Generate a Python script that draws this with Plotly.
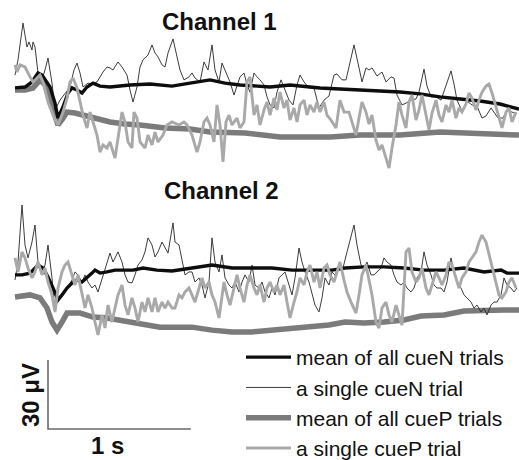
import plotly.graph_objects as go

# ---------------- data (time in ms, amplitude in µV) ----------------
ch1_meanN_t = [0,70,119,161,189,245,280,301,336,371,399,434,469,504,546,595,665,805,945,1099,1225,1365,1470,1575,1785,1925,2135,2324,2485,2695,2835,2975,3115,3255,3395,3528]
ch1_meanN_v = [0.9,1.3,3.5,7.4,6.5,1.3,-5.7,-12.2,-7.4,-1.3,0.9,0,-1.3,1.3,3.0,1.7,1.3,2.2,2.6,1.7,3.0,4.4,3.0,2.2,1.3,2.2,0.9,0.4,0,-0.9,-1.7,-3.0,-3.9,-4.8,-6.1,-8.3]

ch1_meanP_t = [0,70,126,175,210,245,280,301,336,364,420,476,560,665,770,875,1050,1225,1365,1610,1855,2205,2415,2695,2975,3255,3528]
ch1_meanP_v = [0,0,0.9,4.4,2.2,-4.4,-12.2,-15.2,-12.2,-9.6,-10.0,-10.9,-12.2,-13.9,-14.8,-15.2,-16.5,-17.0,-18.3,-18.7,-20.4,-20.4,-19.6,-19.6,-18.3,-18.7,-19.6]

ch1_singleN_t = [0,21,56,84,98,119,126,140,161,189,210,231,259,280,315,350,385,413,434,455,476,511,539,574,616,644,665,686,721,749,784,805,826,854,875,896,931,959,980,1001,1029,1050,1071,1106,1134,1155,1183,1218,1239,1260,1295,1323,1351,1379,1400,1428,1449,1470,1505,1533,1554,1575,1603,1624,1645,1673,1694,1715,1743,1764,1785,1813,1834,1862,1890,1918,1946,1974,1995,2023,2058,2093,2128,2163,2198,2233,2254,2289,2317,2338,2373,2401,2429,2457,2478,2499,2534,2569,2597,2632,2653,2674,2709,2737,2772,2807,2828,2863,2884,2912,2947,2982,3017,3052,3073,3094,3129,3164,3199,3234,3269,3297,3332,3360,3381,3416,3444,3479,3514]
ch1_singleN_v = [6.5,13.1,29.1,18.7,20.9,17.4,20.9,18.7,7.4,4.4,8.7,13.9,3.0,-8.7,-4.4,-1.3,1.3,8.7,11.7,7.4,1.3,3.0,2.6,3.5,7.8,10.0,9.6,8.7,12.2,10.0,6.5,0,-5.2,1.3,10.0,13.1,15.2,19.6,16.1,14.4,10.9,10.0,16.1,22.2,15.2,8.7,4.4,5.7,7.4,5.2,3.5,12.2,8.7,19.6,8.7,3.5,11.7,8.7,3.5,-2.2,2.2,5.7,7.4,2.2,-0.9,7.4,5.7,4.4,2.2,-3.0,-6.5,-7.8,-0.9,4.4,0,-4.4,-6.5,2.2,6.5,3.5,0.9,0.9,-7.8,-4.4,-2.6,6.5,7.0,4.4,4.4,10.0,19.6,11.7,3.5,9.6,8.7,9.6,6.1,7.8,3.5,5.7,5.2,-2.2,-6.5,-5.7,-4.4,-3.9,-0.9,9.1,1.7,-3.0,-3.0,-4.4,1.7,8.3,2.6,-4.4,-9.1,-4.8,-6.5,-7.0,-12.2,-11.3,-7.8,-10.4,-12.2,-12.2,-8.7,-9.6,-10.4]

ch1_singleP_t = [0,14,35,70,105,126,154,175,196,231,266,301,336,364,385,406,434,455,476,504,525,546,574,595,616,644,665,700,721,749,770,791,819,833,854,875,910,931,959,980,1001,1036,1064,1099,1148,1183,1204,1239,1274,1295,1323,1344,1365,1393,1414,1435,1456,1477,1498,1519,1554,1575,1603,1624,1645,1673,1694,1715,1743,1764,1785,1813,1834,1855,1883,1904,1925,1953,1974,1995,2023,2044,2065,2093,2114,2135,2163,2184,2212,2247,2275,2303,2338,2359,2387,2408,2429,2457,2478,2499,2527,2548,2569,2597,2618,2639,2667,2688,2709,2737,2758,2779,2807,2828,2849,2877,2898,2919,2947,2968,2989,3017,3038,3059,3087,3108,3129,3157,3178,3199,3227,3248,3269,3297,3318,3339,3367,3388,3409,3437,3458,3479,3507]
ch1_singleP_v = [10.9,7.8,10.9,10.0,5.7,3.5,5.2,6.5,3.5,-5.2,-10.9,-15.2,-9.6,-3.5,3.5,5.2,0.9,-5.2,-10.9,-16.5,-9.6,-13.9,-19.6,-27.0,-23.9,-25.2,-22.6,-29.6,-20.9,-9.6,-13.9,-22.6,-25.2,-9.6,-12.2,-22.6,-25.2,-19.6,-23.9,-18.3,-22.6,-19.6,-15.2,-13.9,-15.2,-13.9,-15.2,-19.6,-27.0,-22.6,-13.9,-12.2,-15.2,-22.6,-6.5,-15.2,-31.3,-13.9,-10.9,-15.2,-12.2,-16.5,-13.9,3.5,5.7,-10.9,-6.5,-15.2,-8.7,-5.2,-10.9,-3.5,-8.7,-0.9,-7.8,-4.4,-13.1,-7.8,-13.9,-6.5,-4.4,-10.9,-6.5,-9.6,-5.2,-9.6,-5.2,-10.9,-13.1,-16.5,-4.4,-9.6,-9.6,-13.9,-19.6,-12.2,-5.2,-9.6,-14.8,-10.9,-21.8,-26.1,-23.9,-29.6,-33.9,-25.2,-15.2,-5.2,-10.9,-16.5,-5.2,-2.2,-13.1,-8.7,-2.2,-10.9,-17.4,-10.0,-4.4,-10.9,-13.9,-6.5,-9.6,-4.4,-12.2,-7.8,-9.6,-6.1,-1.3,-3.5,-8.7,-4.4,-0.9,1.7,2.6,-1.3,-7.4,-12.2,-16.5,-9.6,-7.8,-13.9,-9.6]

ch2_meanN_t = [0,49,105,161,196,231,266,301,329,364,399,434,469,504,539,560,595,644,700,826,896,994,1099,1239,1379,1519,1680,1799,1939,2079,2219,2310,2443,2583,2723,2863,3003,3143,3283,3402,3444,3528]
ch2_meanN_v = [9.6,9.6,10.4,13.9,12.6,8.7,3.9,-1.3,0.9,3.9,6.1,7.4,6.5,8.3,10.4,11.7,10.4,10.9,11.7,11.7,12.6,11.7,11.3,12.6,13.9,12.6,12.6,12.6,11.7,11.7,11.7,12.6,13.1,13.1,12.6,11.7,11.7,12.6,10.9,11.7,10.4,10.4]

ch2_meanP_t = [0,105,175,224,259,294,329,364,455,546,644,735,826,924,1015,1106,1239,1379,1519,1659,1799,1939,2079,2198,2310,2443,2583,2723,2842,3003,3143,3283,3423,3528]
ch2_meanP_v = [0,0.9,-0.4,-4.8,-10.9,-14.4,-10.9,-7.0,-7.0,-8.7,-9.1,-10.0,-11.3,-12.2,-13.1,-13.1,-13.1,-14.4,-15.2,-15.2,-14.4,-13.9,-13.1,-12.2,-10.9,-11.3,-10.9,-10.0,-8.3,-7.8,-6.1,-5.7,-5.7,-5.7]

ch2_singleN_t = [0,21,49,70,91,119,140,161,189,210,231,259,280,301,336,371,399,420,441,469,490,511,539,560,581,616,644,665,686,721,749,770,791,819,840,861,889,910,931,959,980,1001,1029,1050,1071,1106,1120,1148,1169,1190,1218,1239,1260,1288,1309,1330,1358,1379,1400,1428,1449,1470,1498,1519,1540,1568,1589,1610,1638,1659,1680,1708,1729,1750,1778,1799,1820,1848,1869,1890,1918,1939,1960,1988,2009,2030,2058,2079,2100,2128,2149,2170,2198,2219,2240,2268,2289,2324,2352,2373,2394,2422,2443,2464,2492,2513,2534,2562,2583,2604,2632,2653,2674,2702,2723,2744,2772,2793,2814,2842,2863,2884,2912,2933,2954,2982,3003,3024,3052,3073,3094,3122,3143,3164,3192,3213,3234,3262,3283,3304,3332,3353,3374,3402,3423,3444,3472,3493,3514]
ch2_singleN_v = [7.4,15.2,40.0,22.6,17.0,23.9,31.3,15.2,9.6,13.9,22.6,8.3,-6.5,-0.4,2.2,3.9,7.4,10.9,9.6,6.5,9.6,6.5,3.9,5.2,2.2,9.6,15.2,19.1,15.2,19.6,15.2,9.6,6.5,6.1,9.6,13.9,16.1,19.6,25.7,22.6,17.4,19.6,23.9,21.3,19.1,32.2,23.9,22.6,15.2,9.6,10.9,10.9,6.5,8.3,5.2,-0.4,6.5,25.7,15.2,10.9,18.3,8.3,5.2,3.9,6.5,2.2,6.5,9.6,6.5,13.9,5.2,3.9,6.5,2.2,-0.4,3.9,0.9,8.3,9.6,10.9,5.2,0.9,8.3,21.3,15.2,10.9,6.5,0.9,-3.5,-6.5,-0.4,8.3,5.2,10.9,9.6,13.9,10.9,19.6,27.0,31.3,22.6,13.9,12.6,15.2,9.6,9.6,10.9,12.6,17.0,15.2,13.9,9.6,6.5,5.2,6.5,3.9,2.2,3.9,8.3,10.9,19.6,13.9,9.6,5.2,3.9,3.9,2.2,6.5,17.0,10.9,6.5,3.9,0.9,-0.4,-2.2,-4.8,-3.5,-6.5,-4.8,-7.8,-3.5,-2.2,-2.2,0.9,8.3,5.2,3.9,2.2,3.9]

ch2_singleP_t = [0,21,49,70,91,119,140,161,189,210,231,259,280,301,329,350,371,399,420,441,469,490,511,539,560,581,609,630,651,679,700,721,749,770,791,819,840,861,889,910,931,959,980,1001,1029,1050,1071,1099,1120,1148,1169,1190,1218,1239,1260,1288,1309,1330,1358,1379,1400,1428,1449,1463,1484,1505,1533,1554,1575,1603,1624,1645,1673,1694,1715,1743,1764,1785,1813,1834,1855,1883,1904,1925,1953,1974,1995,2023,2044,2065,2093,2114,2135,2163,2184,2205,2233,2254,2275,2303,2324,2352,2387,2408,2429,2457,2478,2499,2527,2548,2569,2597,2618,2639,2667,2688,2709,2737,2758,2779,2807,2828,2849,2877,2898,2919,2947,2968,2989,3017,3038,3059,3087,3108,3129,3157,3178,3199,3227,3248,3269,3297,3318,3339,3367,3388,3409,3437,3458,3479,3507]
ch2_singleP_v = [17.0,10.9,19.6,17.0,12.6,8.3,10.9,15.2,9.6,12.6,6.5,0.9,-6.5,3.9,10.9,13.9,15.2,9.6,5.2,9.6,0.9,-4.8,0.9,-4.8,-10.9,-16.5,-7.8,-13.5,-3.5,-10.9,-4.8,0.9,5.2,-3.5,-7.8,-0.4,-4.8,-10.9,-2.2,-6.5,-0.4,-6.5,-0.4,-6.5,-2.2,-4.8,-2.2,-4.8,-4.8,0.9,-0.4,2.2,3.9,0.9,-2.2,3.9,8.3,3.9,6.5,0.9,-2.2,-9.1,0.9,6.5,0.9,-3.5,3.9,9.6,3.9,-2.2,5.2,9.6,3.9,0.9,5.2,-2.2,3.9,6.5,2.2,5.2,0.9,5.2,-2.2,-9.1,-2.2,2.2,8.3,5.2,10.9,13.9,6.5,10.9,3.9,12.6,13.9,9.6,6.5,10.9,15.2,7.4,2.2,-2.2,-7.0,0.9,9.6,13.9,6.5,0.9,-10.9,-13.5,-4.8,-2.2,-7.8,-10.9,-3.5,-7.8,-12.2,19.6,21.3,10.9,6.5,8.3,12.6,3.9,0.9,5.2,10.9,8.3,5.2,9.6,15.2,13.9,8.3,3.9,8.3,10.9,15.2,17.0,19.6,23.9,26.9,23.9,18.3,12.6,6.5,0.9,-0.4,2.2,6.5,8.3,3.9]

titles = ["Channel 1", "Channel 2"]
legend_names = ["mean of all cueN trials", "a single cueN trial",
                "mean of all cueP trials", "a single cueP trial"]
scale_uv = 30      # µV
scale_ms = 1000    # ms
scale_labels = ["30 \u03bcV", "1 s"]

# ---------------- styles ----------------
C_MEAN_N, W_MEAN_N = "#0d0d0d", 3.4
C_SING_N, W_SING_N = "#262626", 0.9
C_MEAN_P, W_MEAN_P = "#7b7b7b", 5.5
C_SING_P, W_SING_P = "#a9a9a9", 2.9
FONT = "Liberation Sans, Arial, Helvetica, sans-serif"

W, H = 519, 460
def py(p):  # pixel row -> paper fraction
    return 1 - p / H

fig = go.Figure()

channels = [
    (ch1_meanN_t, ch1_meanN_v, ch1_singleN_t, ch1_singleN_v,
     ch1_meanP_t, ch1_meanP_v, ch1_singleP_t, ch1_singleP_v, "y"),
    (ch2_meanN_t, ch2_meanN_v, ch2_singleN_t, ch2_singleN_v,
     ch2_meanP_t, ch2_meanP_v, ch2_singleP_t, ch2_singleP_v, "y2"),
]
for i, (mnt, mnv, snt, snv, mpt, mpv, spt, spv, ya) in enumerate(channels):
    show = i == 0
    # drawing order: cueP mean, single cueN, cueN mean, single cueP
    fig.add_trace(go.Scatter(x=mpt, y=mpv, yaxis=ya, mode="lines",
                             line=dict(color=C_MEAN_P, width=W_MEAN_P),
                             name=legend_names[2], legendrank=3, showlegend=show))
    fig.add_trace(go.Scatter(x=snt, y=snv, yaxis=ya, mode="lines",
                             line=dict(color=C_SING_N, width=W_SING_N),
                             name=legend_names[1], legendrank=2, showlegend=show))
    fig.add_trace(go.Scatter(x=mnt, y=mnv, yaxis=ya, mode="lines",
                             line=dict(color=C_MEAN_N, width=W_MEAN_N),
                             name=legend_names[0], legendrank=1, showlegend=show))
    fig.add_trace(go.Scatter(x=spt, y=spv, yaxis=ya, mode="lines",
                             line=dict(color=C_SING_P, width=W_SING_P),
                             name=legend_names[3], legendrank=4, showlegend=show))

# scale bar (in data units on its own axis with the same µV/px scale)
bar_t0 = 231
fig.add_trace(go.Scatter(x=[bar_t0, bar_t0, bar_t0 + scale_ms], y=[scale_uv, 0, 0],
                         yaxis="y3", mode="lines", line=dict(color="#6a6a6a", width=1.6),
                         showlegend=False, hoverinfo="skip"))

UVPX = 30 / 69.0   # µV per pixel
hidden = dict(visible=False, fixedrange=True)
fig.update_layout(
    width=W, height=H, autosize=False,
    margin=dict(l=0, r=0, t=0, b=0, pad=0, autoexpand=False),
    paper_bgcolor="white", plot_bgcolor="white",
    xaxis=dict(range=[-105, 3528], domain=[0, 1], **hidden),
    yaxis=dict(domain=[py(180), py(10)], range=[(90 - 180) * UVPX, (90 - 10) * UVPX], **hidden),
    yaxis2=dict(domain=[py(350), py(190)], range=[(297 - 350) * UVPX, (297 - 190) * UVPX], **hidden),
    yaxis3=dict(domain=[py(440), py(355)], range=[(429 - 440) * UVPX, (429 - 355) * UVPX], **hidden),
    showlegend=True,
    legend=dict(x=241 / W, y=py(337), xanchor="left", yanchor="top",
                traceorder="normal", itemwidth=45,
                font=dict(family=FONT, size=21, color="#111"),
                bgcolor="rgba(0,0,0,0)"),
    font=dict(family=FONT),
)

ann = [
    dict(text="<b>%s</b>" % titles[0], x=219 / W, y=py(22)),
    dict(text="<b>%s</b>" % titles[1], x=221 / W, y=py(190)),
    dict(text="<b>%s</b>" % scale_labels[1], x=107 / W, y=py(445)),
    dict(text="<b>%s</b>" % scale_labels[0], x=30 / W, y=py(395), textangle=-90),
]
for a in ann:
    fig.add_annotation(xref="paper", yref="paper", showarrow=False,
                       xanchor="center", yanchor="middle",
                       font=dict(family=FONT, size=24, color="#111"), **a)

fig.write_html("out.html",
               config={"displayModeBar": False, "staticPlot": True},
               post_script="document.body.style.margin='0';"
                           "document.body.style.overflow='hidden';")
